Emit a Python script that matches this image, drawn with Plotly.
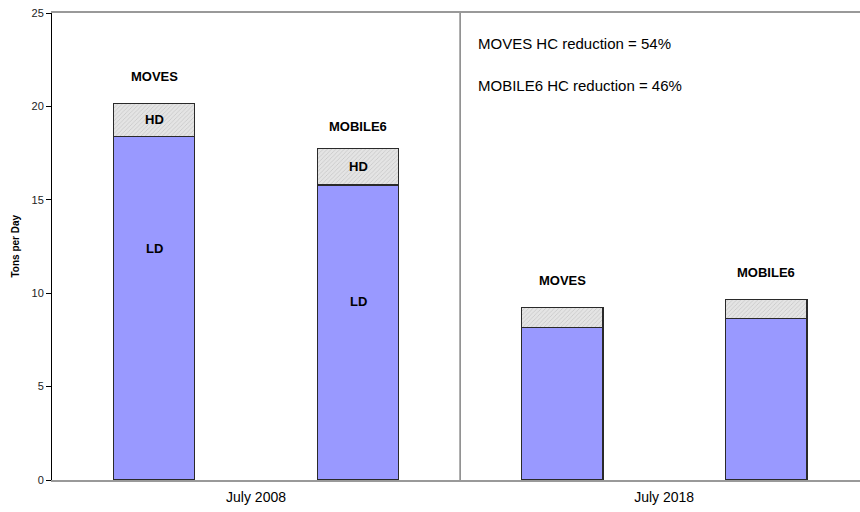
import plotly.graph_objects as go

# Data
bar_positions = [0, 1, 2, 3]
models = ["MOVES", "MOBILE6", "MOVES", "MOBILE6"]
ld_values = [18.38, 15.79, 8.17, 8.66]
hd_values = [1.79, 1.97, 1.07, 0.99]
group_labels = ["July 2008", "July 2018"]
group_positions = [0.5, 2.5]
y_ticks = [0, 5, 10, 15, 20, 25]
notes = ["MOVES HC reduction = 54%", "MOBILE6 HC reduction = 46%"]

FONT = "Liberation Sans, Arial, sans-serif"

fig = go.Figure()
fig.add_trace(go.Bar(
    x=bar_positions, y=ld_values, width=0.4, name="LD",
    marker=dict(color="#9999ff", line=dict(color="#2a2a2a", width=1.2)),
    hoverinfo="skip",
))
fig.add_trace(go.Bar(
    x=bar_positions, y=hd_values, width=0.4, name="HD",
    marker=dict(color="#e0e0e0", line=dict(color="#2a2a2a", width=1.2),
                pattern=dict(shape="/", fgcolor="#a8a8a8", bgcolor="#e4e4e4",
                             size=3, solidity=0.25)),
    hoverinfo="skip",
))

annotations = []
model_label_y = [21.6, 18.95, 10.7, 11.1]
for xp, m, yy in zip(bar_positions, models, model_label_y):
    annotations.append(dict(x=xp, y=yy, text="<b>%s</b>" % m, showarrow=False,
                            font=dict(family=FONT, size=13, color="#000")))
for i in [0, 1]:
    annotations.append(dict(x=bar_positions[i], y=ld_values[i] + hd_values[i] / 2,
                            text="<b>HD</b>", showarrow=False,
                            font=dict(family=FONT, size=13, color="#000")))
for i, yy in zip([0, 1], [12.37, 9.58]):
    annotations.append(dict(x=bar_positions[i], y=yy, text="<b>LD</b>", showarrow=False,
                            font=dict(family=FONT, size=13, color="#000")))
for txt, yy in zip(notes, [23.35, 21.1]):
    annotations.append(dict(x=1.58, y=yy, xanchor="left", text=txt, showarrow=False,
                            font=dict(family=FONT, size=15, color="#000")))
# y-axis title
annotations.append(dict(xref="paper", yref="paper", x=0, y=0.5, xshift=-37,
                        xanchor="center", yanchor="middle",
                        text="<b>Tons per Day</b>", textangle=-90, showarrow=False,
                        font=dict(family=FONT, size=10, color="#000")))

fig.update_layout(
    width=860, height=512,
    margin=dict(l=52, r=0, t=13, b=32),
    paper_bgcolor="white", plot_bgcolor="white",
    barmode="stack", showlegend=False,
    font=dict(family=FONT, color="#000"),
    annotations=annotations,
    shapes=[dict(type="line", xref="x", yref="y", x0=1.5, x1=1.5, y0=0, y1=25,
                 line=dict(color="#444444", width=1))],
    xaxis=dict(range=[-0.5, 3.46], tickvals=group_positions, ticktext=group_labels,
               showgrid=False, zeroline=False, showline=True, linecolor="#999999",
               linewidth=1.5, mirror=True, ticks="", automargin=False,
               ticklabelstandoff=3, tickfont=dict(size=14, family=FONT)),
    yaxis=dict(range=[0, 25], tickvals=y_ticks, showgrid=False, zeroline=False,
               showline=True, linecolor="#000000", linewidth=1, ticks="outside",
               ticklen=5, tickcolor="#000", automargin=False,
               tickfont=dict(size=11, family=FONT, color="#222")),
)

# remove the default 8px page margin so the figure sits at the window's corner
fig.write_html("out.html", config={"displayModeBar": False},
               post_script="document.body.style.margin='0px';document.body.style.padding='0px';")
